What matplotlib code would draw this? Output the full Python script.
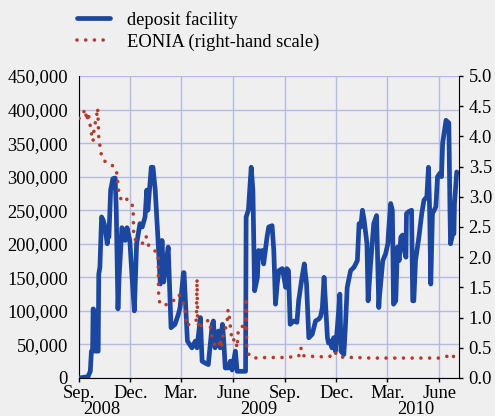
import matplotlib
matplotlib.use("Agg")
import matplotlib.pyplot as plt
import matplotlib.dates as mdates
import matplotlib.transforms as mtransforms
import numpy as np
import pandas as pd

# ---------------- data ----------------
deposit_dates = [
    "2008-09-01", "2008-09-17", "2008-09-21", "2008-09-23", "2008-09-25", "2008-09-26",
    "2008-09-29", "2008-09-30", "2008-10-05", "2008-10-06", "2008-10-08", "2008-10-11",
    "2008-10-14", "2008-10-17", "2008-10-21", "2008-10-22", "2008-10-24", "2008-10-27",
    "2008-10-31", "2008-11-04", "2008-11-06", "2008-11-09", "2008-11-11", "2008-11-16",
    "2008-11-20", "2008-11-22", "2008-11-25", "2008-11-30", "2008-12-04", "2008-12-08",
    "2008-12-12", "2008-12-18", "2008-12-22", "2008-12-27", "2008-12-30", "2009-01-01",
    "2009-01-07", "2009-01-10", "2009-01-14", "2009-01-19", "2009-01-23", "2009-01-26",
    "2009-01-29", "2009-02-02", "2009-02-06", "2009-02-11", "2009-02-18", "2009-02-24",
    "2009-02-27", "2009-03-05", "2009-03-06", "2009-03-12", "2009-03-20", "2009-03-26",
    "2009-03-29", "2009-04-04", "2009-04-07", "2009-04-13", "2009-04-18", "2009-04-25",
    "2009-04-27", "2009-04-30", "2009-05-06", "2009-05-09", "2009-05-13", "2009-05-15",
    "2009-05-18", "2009-05-23", "2009-05-27", "2009-05-30", "2009-06-05", "2009-06-08",
    "2009-06-14", "2009-06-23", "2009-06-24", "2009-06-28", "2009-07-03", "2009-07-06",
    "2009-07-09", "2009-07-14", "2009-07-16", "2009-07-19", "2009-07-22", "2009-07-25",
    "2009-07-31", "2009-08-03", "2009-08-09", "2009-08-12", "2009-08-15", "2009-08-18",
    "2009-08-21", "2009-08-27", "2009-08-30", "2009-09-02", "2009-09-04", "2009-09-07",
    "2009-09-10", "2009-09-16", "2009-09-22", "2009-09-25", "2009-10-01", "2009-10-05",
    "2009-10-09", "2009-10-13", "2009-10-19", "2009-10-25", "2009-10-31", "2009-11-03",
    "2009-11-06", "2009-11-09", "2009-11-12", "2009-11-15", "2009-11-17", "2009-11-20",
    "2009-11-23", "2009-11-26", "2009-11-29", "2009-12-03", "2009-12-07", "2009-12-09",
    "2009-12-14", "2009-12-17", "2009-12-20", "2009-12-26", "2010-01-01", "2010-01-07",
    "2010-01-10", "2010-01-13", "2010-01-16", "2010-01-19", "2010-01-24", "2010-01-26",
    "2010-01-30", "2010-02-05", "2010-02-10", "2010-02-14", "2010-02-15", "2010-02-21",
    "2010-02-26", "2010-03-02", "2010-03-03", "2010-03-07", "2010-03-10", "2010-03-12",
    "2010-03-16", "2010-03-19", "2010-03-22", "2010-03-25", "2010-03-28", "2010-03-30",
    "2010-04-03", "2010-04-04", "2010-04-08", "2010-04-13", "2010-04-15", "2010-04-17",
    "2010-04-20", "2010-04-26", "2010-05-01", "2010-05-05", "2010-05-10", "2010-05-13",
    "2010-05-15", "2010-05-17", "2010-05-20", "2010-05-26", "2010-05-29", "2010-06-02",
    "2010-06-05", "2010-06-07", "2010-06-13", "2010-06-18", "2010-06-20", "2010-06-21",
    "2010-06-25", "2010-06-27", "2010-06-28", "2010-07-02",
]
deposit_values = [
    0, 2000, 10000, 40000, 40000, 103000,
    100000, 40000, 40000, 155000, 165000, 240000,
    235000, 225000, 200000, 215000, 210000, 280000,
    297000, 298000, 250000, 103000, 150000, 224000,
    215000, 205000, 224000, 205000, 150000, 100000,
    200000, 230000, 225000, 240000, 280000, 250000,
    314000, 314000, 280000, 205000, 140000, 205000,
    143000, 170000, 195000, 75000, 80000, 95000,
    105000, 157000, 157000, 55000, 45000, 55000,
    45000, 90000, 25000, 22000, 20000, 80000,
    85000, 45000, 70000, 45000, 80000, 60000,
    15000, 15000, 25000, 12000, 40000, 10000,
    10000, 10000, 240000, 250000, 314000, 280000,
    130000, 150000, 190000, 180000, 190000, 170000,
    210000, 225000, 227000, 190000, 110000, 140000,
    160000, 163000, 150000, 135000, 163000, 160000,
    80000, 85000, 83000, 115000, 150000, 170000,
    140000, 60000, 65000, 85000, 88000, 92000,
    105000, 150000, 105000, 60000, 52000, 55000,
    45000, 60000, 40000, 80000, 125000, 40000,
    35000, 80000, 135000, 160000, 165000, 175000,
    230000, 225000, 250000, 235000, 200000, 115000,
    165000, 230000, 242000, 105000, 120000, 175000,
    185000, 200000, 215000, 260000, 250000, 110000,
    115000, 195000, 175000, 210000, 213000, 195000,
    180000, 245000, 248000, 250000, 115000, 115000,
    175000, 210000, 245000, 265000, 270000, 314000,
    250000, 140000, 245000, 255000, 300000, 305000,
    300000, 350000, 384000, 380000, 250000, 200000,
    215000, 215000, 260000, 307000,
]

eonia_dates = [
    "2008-09-01", "2008-09-08", "2008-09-11", "2008-09-13", "2008-09-15", "2008-09-17",
    "2008-09-20", "2008-09-21", "2008-09-23", "2008-09-26", "2008-09-27", "2008-09-29",
    "2008-10-02", "2008-10-04", "2008-10-05", "2008-10-06", "2008-10-08", "2008-10-10",
    "2008-10-15", "2008-10-24", "2008-10-30", "2008-11-06", "2008-11-08", "2008-11-09",
    "2008-11-11", "2008-11-16", "2008-11-25", "2008-12-04", "2008-12-06", "2008-12-07",
    "2008-12-14", "2008-12-25", "2008-12-29", "2009-01-01", "2009-01-10", "2009-01-19",
    "2009-01-20", "2009-01-22", "2009-01-26", "2009-02-01", "2009-02-09", "2009-02-18",
    "2009-02-25", "2009-03-04", "2009-03-08", "2009-03-09", "2009-03-10", "2009-03-19",
    "2009-03-28", "2009-03-29", "2009-03-30", "2009-04-02", "2009-04-07", "2009-04-13",
    "2009-04-18", "2009-04-21", "2009-04-23", "2009-04-27", "2009-04-30", "2009-05-06",
    "2009-05-09", "2009-05-11", "2009-05-15", "2009-05-20", "2009-05-22", "2009-05-23",
    "2009-05-25", "2009-05-27", "2009-05-30", "2009-06-05", "2009-06-08", "2009-06-10",
    "2009-06-17", "2009-06-23", "2009-06-24", "2009-06-25", "2009-06-28", "2009-07-05",
    "2009-08-01", "2009-09-01", "2009-09-25", "2009-09-29", "2009-09-30", "2009-10-02",
    "2009-10-15", "2009-11-01", "2009-11-20", "2009-11-27", "2009-11-29", "2009-12-01",
    "2009-12-03", "2009-12-15", "2010-01-01", "2010-02-01", "2010-03-01", "2010-04-01",
    "2010-05-01", "2010-06-01", "2010-06-20", "2010-06-25", "2010-07-01",
]
eonia_values = [
    4.30, 4.35, 4.45, 4.38, 4.26, 4.39,
    4.25, 4.17, 4.05, 3.92, 4.06, 4.19,
    4.32, 4.47, 4.25, 3.99, 3.85, 3.72,
    3.60, 3.54, 3.52, 3.44, 3.32, 3.19,
    3.05, 2.92, 2.96, 2.89, 2.74, 2.33,
    2.24, 2.23, 2.34, 2.21, 2.13, 2.06,
    1.40, 1.23, 1.21, 1.21, 1.24, 1.30,
    1.38, 1.26, 1.15, 1.01, 0.86, 0.91,
    0.96, 1.64, 0.96, 0.81, 0.90, 0.91,
    0.96, 0.90, 0.75, 0.61, 0.52, 0.52,
    0.65, 0.50, 0.75, 0.86, 1.00, 1.13,
    1.03, 0.86, 0.61, 0.65, 0.50, 0.78,
    0.86, 0.78, 1.33, 0.50, 0.40, 0.33,
    0.34, 0.34, 0.36, 0.50, 0.45, 0.37,
    0.36, 0.35, 0.36, 0.36, 0.42, 0.39,
    0.36, 0.34, 0.34, 0.33, 0.33, 0.33,
    0.33, 0.33, 0.37, 0.33, 0.46,
]

left_ticks = [0, 50000, 100000, 150000, 200000, 250000, 300000, 350000, 400000, 450000]
right_ticks = [0.0, 0.5, 1.0, 1.5, 2.0, 2.5, 3.0, 3.5, 4.0, 4.5, 5.0]
month_ticks = ["2008-09-01", "2008-12-01", "2009-03-01", "2009-06-01",
               "2009-09-01", "2009-12-01", "2010-03-01", "2010-06-01"]
month_labels = ["Sep.", "Dec.", "Mar.", "June", "Sep.", "Dec.", "Mar.", "June"]
year_labels = ["2008", "2009", "2010"]
year_label_pos = ["2008-10-12", "2009-07-16", "2010-04-20"]
legend_labels = ["deposit facility", "EONIA (right-hand scale)"]

# ---------------- style ----------------
BG = "#efefef"
GRID = "#b6bae2"
BLUE = "#1c47a0"
RED = "#b53a2c"
FS = 13.3
plt.rcParams["font.family"] = ["Liberation Serif", "DejaVu Serif"]
plt.rcParams["font.size"] = FS

W, H = 495, 416
fig = plt.figure(figsize=(W / 100, H / 100), dpi=100, facecolor=BG)
ax = fig.add_axes([79 / W, (H - 378) / H, (459 - 79) / W, (378 - 76) / H])
ax.set_facecolor(BG)

dd = pd.to_datetime(deposit_dates)
ed = pd.to_datetime(eonia_dates)

ax.set_xlim(pd.Timestamp("2008-09-01"), pd.Timestamp("2010-07-06"))
ax.set_ylim(0, 450000)
ax.set_yticks(left_ticks)
ax.set_yticklabels([f"{v:,}" for v in left_ticks])
ax.set_xticks(pd.to_datetime(month_ticks))
ax.set_xticklabels(month_labels)

ax.grid(True, color=GRID, linewidth=1.0)
ax.set_axisbelow(True)

ax.tick_params(axis="y", length=0, pad=8, labelsize=FS)
ax.tick_params(axis="x", length=3, width=1, direction="out", pad=2, labelsize=FS)
for s in ["top", "right"]:
    ax.spines[s].set_visible(False)
ax.spines["left"].set_color("black")
ax.spines["bottom"].set_color("black")

l1, = ax.plot(dd, deposit_values, color=BLUE, linewidth=3.4, solid_joinstyle="round",
              solid_capstyle="round", zorder=3)

ax2 = ax.twinx()
ax2.set_ylim(0, 5.0)
ax2.set_yticks(right_ticks)
ax2.set_yticklabels([f"{v:.1f}" for v in right_ticks])
ax2.tick_params(axis="y", length=3, width=1, direction="out", pad=4, labelsize=FS)
for s in ["top", "left", "bottom"]:
    ax2.spines[s].set_visible(False)
ax2.spines["right"].set_color("black")

l2, = ax2.plot(ed, eonia_values, color=RED, linewidth=2.6, linestyle=(0, (0.01, 2.4)),
               dash_capstyle="round", zorder=4)

trans = mtransforms.blended_transform_factory(ax.transData, fig.transFigure)
for lab, pos in zip(year_labels, year_label_pos):
    ax.text(pd.Timestamp(pos), (H - 409) / H, lab, transform=trans, ha="center",
            va="center", fontsize=FS)

leg = fig.legend([l1, l2], legend_labels, loc="upper left",
                 bbox_to_anchor=(77 / W, (H - 11) / H), frameon=False,
                 handlelength=1.8, handletextpad=0.9, labelspacing=0.25,
                 borderpad=0, borderaxespad=0, fontsize=FS)

fig.savefig("out.png", dpi=100, facecolor=BG)
